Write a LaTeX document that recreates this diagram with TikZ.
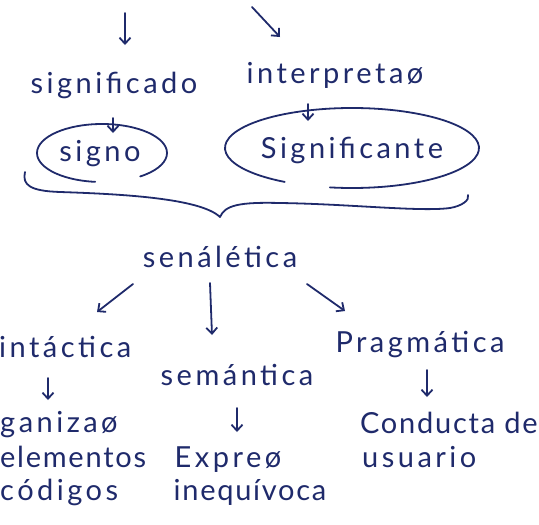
\documentclass[tikz,border=0pt]{standalone}
\usepackage{fontspec}
\setmainfont[LetterSpace=12]{Lato}
\newfontfamily\tighthand[LetterSpace=6]{Lato}
\usetikzlibrary{arrows.meta}
\definecolor{ink}{HTML}{1F2A6B}
\tikzset{
  ink/.style={draw=ink,line width=1.8pt,line cap=round,line join=round},
  arr/.style={ink,-{Straight Barb[length=6pt,width=11pt]}},
  txt/.style={text=ink,inner sep=0pt,font=\fontsize{29}{32}\selectfont},
  tighttxt/.style={txt,font=\fontsize{29}{32}\tighthand},
}
\begin{document}
\begin{tikzpicture}[x=1pt,y=-1pt]
\useasboundingbox (0,0) rectangle (539,525);
\clip (0,0) rectangle (539,525);
% top arrows
\coordinate (t1s) at (125,13); \coordinate (t1e) at (125,45);
\coordinate (t2s) at (252,7);  \coordinate (t2e) at (280,37);
\draw[arr] (t1s) -- (t1e);
\draw[arr] (t2s) -- (t2e);
% top texts
\node[txt,anchor=base] (sdo) at (114,93) {significado};
\node[txt,anchor=base] (interp) at (335,83) {interpretaø};
\node[txt,anchor=base] (signo) at (100,161) {signo};
\node[txt,anchor=base] (ste) at (352,158) {Significante};
% ellipses with gap
\draw[ink] (102,153) ++(96:65 and 29) arc[start angle=96,end angle=414,x radius=65,y radius=29];
\draw[ink] (352,148) ++(122:127 and 40) arc[start angle=122,end angle=460,x radius=127,y radius=40];
% small arrows
\coordinate (a1s) at (113,118); \coordinate (a1e) at (113,133);
\coordinate (a2s) at (308,104); \coordinate (a2e) at (308,121);
\draw[arr] (a1s) -- (a1e);
\draw[arr] (a2s) -- (a2e);
% brace
\coordinate (bl) at (25,172); \coordinate (bt) at (220,217); \coordinate (br) at (468,195);
\draw[ink] (bl) .. controls (22,185) and (30,191) .. (60,192)
  .. controls (120,194) and (200,198) .. (bt)
  .. controls (225,205) and (240,202) .. (280,203)
  .. controls (350,204) and (420,212) .. (450,208)
  .. controls (462,206) and (470,200) .. (br);
% semiotics
\node[txt,anchor=base] (sen) at (220,267) {senálética};
\coordinate (b1s) at (133,284); \coordinate (b1e) at (97,312);
\coordinate (b2s) at (210,283); \coordinate (b2e) at (212,335);
\coordinate (b3s) at (307,284); \coordinate (b3e) at (345,311);
\draw[arr] (b1s) -- (b1e);
\draw[arr] (b2s) -- (b2e);
\draw[arr] (b3s) -- (b3e);
\node[txt,anchor=base west] (sint) at (-1,357) {intáctica};
\node[txt,anchor=base] (sem) at (237,385) {semántica};
\node[txt,anchor=base] (prag) at (420,352) {Pragmática};
\coordinate (c1s) at (48,378); \coordinate (c1e) at (48,400);
\coordinate (c2s) at (237,408); \coordinate (c2e) at (237,432);
\coordinate (c3s) at (427,370); \coordinate (c3e) at (427,397);
\draw[arr] (c1s) -- (c1e);
\draw[arr] (c2s) -- (c2e);
\draw[arr] (c3s) -- (c3e);
\node[txt,anchor=base west] (org) at (0,432) {ganizaø};
\node[tighttxt,anchor=base west] (elem) at (0,467) {elementos};
\node[txt,anchor=base west] (cod) at (0,500) {códigos};
\node[txt,anchor=base] (expr) at (228,467) {Expreø};
\node[tighttxt,anchor=base] (ineq) at (250,500) {inequívoca};
\node[tighttxt,anchor=base west] (cond) at (360,433) {Conducta de};
\node[txt,anchor=base west] (usu) at (362,467) {usuario};
\end{tikzpicture}
\end{document}
